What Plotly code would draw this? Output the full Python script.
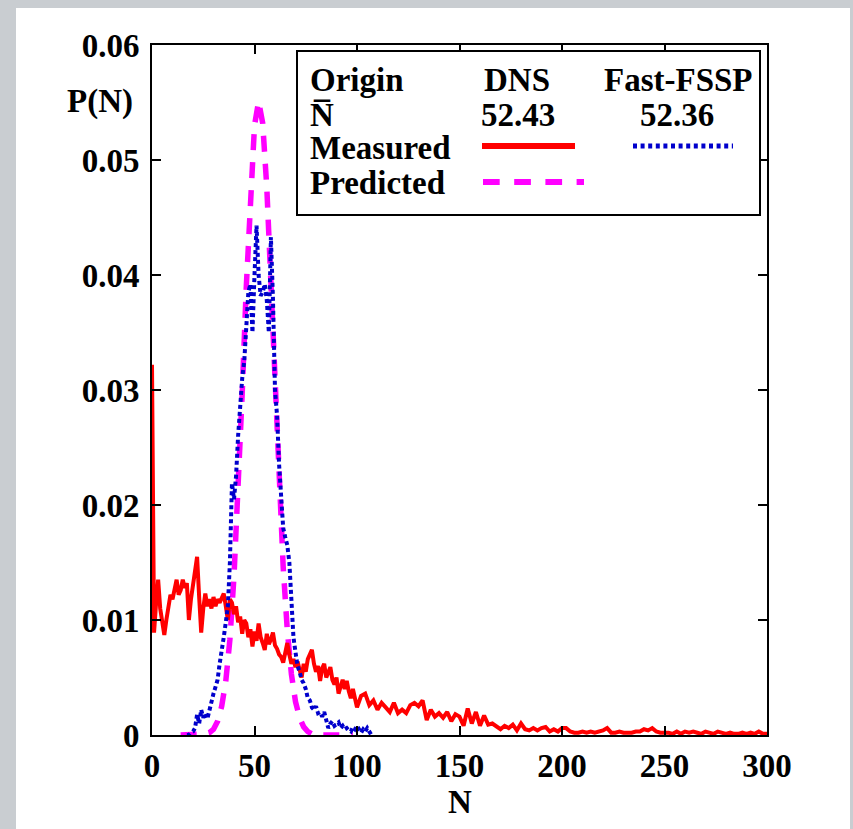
import plotly.graph_objects as go

# ---------------- data ----------------
# DNS measured (red, solid)
dns_N = list(range(0, 101)) + list(range(102, 301, 2))
dns_P = [
    0.0322, 0.0089, 0.0115, 0.0135, 0.0110, 0.0095, 0.0087, 0.0100, 0.0112, 0.0122,
    0.0118, 0.0128, 0.0135, 0.0122, 0.0126, 0.0135, 0.0128, 0.0132, 0.0100, 0.0118,
    0.0130, 0.0145, 0.0155, 0.0120, 0.0089, 0.0110, 0.0123, 0.0112, 0.0118, 0.0110,
    0.0120, 0.0112, 0.0118, 0.0115, 0.0120, 0.0123, 0.0112, 0.0100, 0.0118, 0.0115,
    0.0105, 0.0112, 0.0098, 0.0103, 0.0088, 0.0100, 0.0097, 0.0085, 0.0092, 0.0077,
    0.0090, 0.0082, 0.0097, 0.0085, 0.0080, 0.0074, 0.0088, 0.0079, 0.0083, 0.0089,
    0.0078, 0.0075, 0.0070, 0.0068, 0.0063, 0.0072, 0.0080, 0.0070, 0.0062, 0.0066,
    0.0059, 0.0064, 0.0058, 0.0050, 0.0062, 0.0055, 0.0066, 0.0070, 0.0074, 0.0062,
    0.0055, 0.0060, 0.0047, 0.0058, 0.0062, 0.0050, 0.0055, 0.0059, 0.0048, 0.0044,
    0.0050, 0.0036, 0.0042, 0.0048, 0.0040, 0.0047, 0.0038, 0.0032, 0.0040, 0.0030,
    0.0024,
    0.0034, 0.0036, 0.0026, 0.0030, 0.0022, 0.0028, 0.0024, 0.0020, 0.0028, 0.0019,
    0.0022, 0.0019, 0.0026, 0.0028, 0.0025, 0.0030, 0.0013, 0.0022, 0.0016, 0.0019,
    0.0015, 0.0020, 0.0012, 0.0018, 0.0016, 0.0008, 0.0023, 0.0010, 0.0020, 0.0008,
    0.0017, 0.0009, 0.0010, 0.0007, 0.0005, 0.0008, 0.0006, 0.0009, 0.0004, 0.0010,
    0.0005, 0.0004, 0.0006, 0.0004, 0.0006, 0.0007, 0.0003, 0.0005, 0.0003, 0.0006,
    0.0006, 0.0003, 0.0002, 0.0002, 0.0003, 0.0002, 0.0003, 0.0002, 0.0003, 0.0004,
    0.0006, 0.0002, 0.0002, 0.0003, 0.0002, 0.0002, 0.0002, 0.0003, 0.0003, 0.0005,
    0.0004, 0.0006, 0.0003, 0.0002, 0.0002, 0.0002, 0.0001, 0.0003, 0.0001, 0.0003,
    0.0002, 0.0003, 0.0002, 0.0001, 0.0003, 0.0002, 0.0001, 0.0003, 0.0002, 0.0001,
    0.0002, 0.0001, 0.0001, 0.0002, 0.0001, 0.0002, 0.0001, 0.0003, 0.0001, 0.0001,
]

# Fast-FSSP measured (blue, dotted)
fssp_N = list(range(17, 108))
fssp_P = [
    0.0000, 0.0000, 0.0002, 0.0003, 0.0006, 0.0018, 0.0010, 0.0022, 0.0015, 0.0019,
    0.0014, 0.0022, 0.0030, 0.0036, 0.0042, 0.0048, 0.0062, 0.0072, 0.0085, 0.0098,
    0.0112, 0.0150, 0.0219, 0.0205, 0.0225, 0.0260, 0.0290, 0.0310, 0.0325, 0.0350,
    0.0385, 0.0392, 0.0350, 0.0400, 0.0443, 0.0400, 0.0382, 0.0385, 0.0392, 0.0378,
    0.0350, 0.0433, 0.0380, 0.0300, 0.0278, 0.0235, 0.0200, 0.0180, 0.0172, 0.0165,
    0.0150, 0.0108, 0.0085, 0.0072, 0.0060, 0.0055, 0.0048, 0.0045, 0.0040, 0.0032,
    0.0030, 0.0024, 0.0022, 0.0025, 0.0019, 0.0020, 0.0016, 0.0020, 0.0012, 0.0006,
    0.0010, 0.0012, 0.0008, 0.0010, 0.0011, 0.0006, 0.0008, 0.0005, 0.0006, 0.0004,
    0.0003, 0.0007, 0.0005, 0.0008, 0.0004, 0.0002, 0.0005, 0.0003, 0.0006, 0.0002,
    0.0000,
]

# DNS predicted (magenta, dashed)
pred_N = list(range(14, 100, 2))
pred_P = [
    0.0000, 0.0000, 0.0000, 0.0000, 0.0000, 0.0000, 0.0001, 0.0002, 0.0005, 0.0012,
    0.0025, 0.0047, 0.0083, 0.0138, 0.0210, 0.0297, 0.0390, 0.0472, 0.0530, 0.0551,
    0.0532, 0.0476, 0.0395, 0.0305, 0.0218, 0.0146, 0.0091, 0.0053, 0.0029, 0.0015,
    0.0007, 0.0003, 0.0001, 0.0000, 0.0000, 0.0000, 0.0000, 0.0000, 0.0000, 0.0000,
    0.0000, 0.0000, 0.0000,
]

x_ticks = [0, 50, 100, 150, 200, 250, 300]
y_ticks = [0, 0.01, 0.02, 0.03, 0.04, 0.05, 0.06]
y_labels = ["0", "0.01", "0.02", "0.03", "0.04", "0.05", "0.06"]

# legend texts
leg_header = ["Origin", "DNS", "Fast-FSSP"]
leg_means = ["N\u0305", "52.43", "52.36"]
leg_rows = ["Measured", "Predicted"]

# ---------------- layout helpers ----------------
W, H = 853, 829
L, R, T, B = 152, 767, 45, 735
def px(x):
    return (x - L) / (R - L)
def py(y):
    return (B - y) / (B - T)

RED = "#ff0000"
BLUE = "#0000cc"
MAG = "#ff00ff"
FONT = "Liberation Serif"
FS = 33

fig = go.Figure()
fig.add_trace(go.Scatter(x=pred_N, y=pred_P, mode="lines",
                         line=dict(color=MAG, width=5.5, dash="16px,12px"),
                         showlegend=False))
fig.add_trace(go.Scatter(x=dns_N, y=dns_P, mode="lines",
                         line=dict(color=RED, width=4),
                         showlegend=False))
fig.add_trace(go.Scatter(x=fssp_N, y=fssp_P, mode="lines",
                         line=dict(color=BLUE, width=4, dash="4px,3px"),
                         showlegend=False))

shapes = []
# white panel over grey background
shapes.append(dict(type="rect", xref="paper", yref="paper", layer="below",
                   x0=px(16), x1=px(850), y0=py(900), y1=py(8),
                   fillcolor="white", line=dict(width=0)))
# legend box
shapes.append(dict(type="rect", xref="paper", yref="paper",
                   x0=px(297), x1=px(760), y0=py(215), y1=py(51),
                   fillcolor="white", line=dict(color="black", width=2)))
# legend samples
shapes.append(dict(type="line", xref="paper", yref="paper",
                   x0=px(482), x1=px(575), y0=py(146), y1=py(146),
                   line=dict(color=RED, width=6)))
shapes.append(dict(type="line", xref="paper", yref="paper",
                   x0=px(633), x1=px(733), y0=py(146), y1=py(146),
                   line=dict(color=BLUE, width=5, dash="4px,3.6px")))
shapes.append(dict(type="line", xref="paper", yref="paper",
                   x0=px(483), x1=px(584), y0=py(182), y1=py(182),
                   line=dict(color=MAG, width=6, dash="16.7px,14.5px")))

def ann(text, x, y, xanchor="left"):
    return dict(text=text, x=px(x), y=py(y), xref="paper", yref="paper",
                xanchor=xanchor, yanchor="middle", showarrow=False,
                font=dict(family=FONT, size=FS, color="black", weight="bold"))

annotations = [
    ann(leg_header[0], 308, 80),
    ann(leg_header[1], 517, 80, "center"),
    ann(leg_header[2], 678, 80, "center"),
    ann(leg_means[0], 308, 115),
    ann(leg_means[1], 518, 115, "center"),
    ann(leg_means[2], 677, 115, "center"),
    ann(leg_rows[0], 308, 148),
    ann(leg_rows[1], 308, 183),
    ann("P(N)", 100, 102, "center"),
    ann("N", 460, 802, "center"),
]

axis_common = dict(showline=True, linecolor="black", linewidth=2, mirror="allticks",
                   ticks="inside", ticklen=9, tickwidth=2, tickcolor="black",
                   showgrid=False, zeroline=False,
                   tickfont=dict(family=FONT, size=FS, color="black", weight="bold"))

fig.update_layout(
    width=W, height=H,
    margin=dict(l=L, r=W - R, t=T, b=H - B, pad=0),
    paper_bgcolor="#c9cdd1",
    plot_bgcolor="white",
    xaxis=dict(range=[0, 300], tickvals=x_ticks, ticktext=[str(v) for v in x_ticks],
               ticklabelstandoff=0, **axis_common),
    yaxis=dict(range=[0, 0.06], tickvals=y_ticks, ticktext=y_labels,
               ticklabelstandoff=4, **axis_common),
    shapes=shapes,
    annotations=annotations,
    showlegend=False,
)

fig.write_html("out.html")
